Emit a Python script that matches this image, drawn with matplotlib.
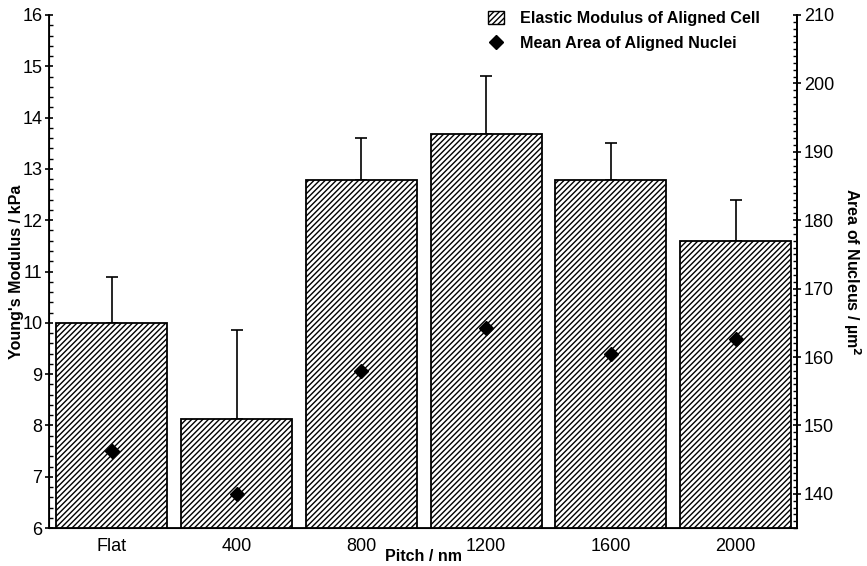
import numpy as np
import matplotlib.pyplot as plt
from matplotlib.patches import Patch
from matplotlib.lines import Line2D
from matplotlib.ticker import MultipleLocator

plt.rcParams['font.family'] = ['Liberation Sans', 'DejaVu Sans']
plt.rcParams['hatch.linewidth'] = 1.0

# Datos
pitch = ["Flat", "400", "800", "1200", "1600", "2000"]
modulo = np.array([10.0, 8.13, 12.78, 13.69, 12.78, 11.6])      # kPa
err_modulo = np.array([0.9, 1.73, 0.82, 1.12, 0.72, 0.8])
area_nucleo = np.array([146.3, 140.0, 158.0, 164.3, 160.4, 162.6])  # um^2

fig = plt.figure(figsize=[8.67, 5.66], dpi=100)
ax = fig.add_axes([0.057, 0.067, 0.862, 0.9065])
x = np.arange(len(pitch))

ax.bar(x, modulo, width=0.89, bottom=0, color="white", edgecolor="black",
       linewidth=1.3, hatch="//////", zorder=2)
ax.errorbar(x, modulo, yerr=[np.zeros_like(err_modulo), err_modulo], fmt="none",
            ecolor="black", elinewidth=1.2, capsize=4, capthick=1.2, zorder=1)

ax.set_ylim(6, 16)
ax.set_xlim(-0.5, 5.49)
ax.set_xticks(x)
ax.set_xticklabels(pitch, fontsize=13)
ax.tick_params(axis="x", length=0, pad=7)
ax.yaxis.set_major_locator(MultipleLocator(1))
ax.yaxis.set_minor_locator(MultipleLocator(0.2))
ax.tick_params(axis="y", which="major", direction="inout", length=6, width=1.2, labelsize=13, pad=2)
ax.tick_params(axis="y", which="minor", direction="in", length=3, width=1)
ax.spines["top"].set_visible(False)
for s in ["left", "right", "bottom"]:
    ax.spines[s].set_linewidth(1.3)
ax.set_ylabel("Young's Modulus / kPa", fontsize=11.5, fontweight="bold")
ax.yaxis.set_label_coords(-0.034, 0.5)
ax.set_xlabel("Pitch / nm", fontsize=11.5, fontweight="bold", labelpad=-4)

ax2 = ax.twinx()
ax2.plot(x, area_nucleo, "D", color="black", ms=7, zorder=3)
ax2.set_ylim(135, 210)
ax2.yaxis.set_major_locator(MultipleLocator(10))
ax2.yaxis.set_minor_locator(MultipleLocator(1))
ax2.tick_params(axis="y", which="major", direction="inout", length=6, width=1.2, labelsize=13, pad=2)
ax2.tick_params(axis="y", which="minor", direction="in", length=3, width=1)
ax2.spines["top"].set_visible(False)
ax2.spines["right"].set_linewidth(1.3)
ax2.set_ylabel("Area of Nucleus / µm$^{\\mathbf{2}}$", fontsize=11.5, fontweight="bold",
               rotation=270)
ax2.yaxis.set_label_coords(1.088, 0.5)

handles = [Patch(facecolor="white", edgecolor="black", hatch="//////", linewidth=1),
           Line2D([], [], marker="D", color="black", ls="none", ms=7)]
fig.legend(handles, ["Elastic Modulus of Aligned Cell", "Mean Area of Aligned Nuclei"],
           loc="upper left", bbox_to_anchor=(0.546, 1.006), frameon=False,
           prop={"weight": "bold", "size": 11.6}, handlelength=1.0, handleheight=0.8,
           handletextpad=1.0, labelspacing=0.6)

fig.savefig("out.png", dpi=100)
